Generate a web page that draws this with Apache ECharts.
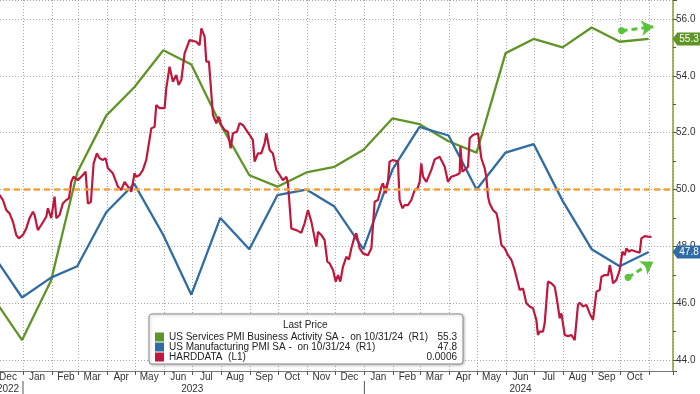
<!DOCTYPE html>
<html><head><meta charset="utf-8">
<script src="https://cdn.jsdelivr.net/npm/echarts@6/dist/echarts.min.js"></script>
<style>html,body{margin:0;padding:0;background:#fff}#c{width:700px;height:394px}</style>
</head><body><div id="c"></div>
<script>
// ---- data ----
const pmiDates = ['2022-11-30','2022-12-31','2023-01-31','2023-02-28','2023-03-31','2023-04-30','2023-05-31','2023-06-30','2023-07-31','2023-08-31','2023-09-30','2023-10-31','2023-11-30','2023-12-31','2024-01-31','2024-02-29','2024-03-31','2024-04-30','2024-05-31','2024-06-30','2024-07-31','2024-08-31','2024-09-30','2024-10-31'];
const servicesPMI = [46.2,44.7,46.8,50.6,52.6,53.6,54.9,54.4,52.3,50.5,50.1,50.6,50.8,51.4,52.5,52.3,51.7,51.3,54.8,55.3,55.0,55.7,55.2,55.3];
const manufacturingPMI = [47.7,46.2,46.9,47.3,49.2,50.2,48.4,46.3,49.0,47.9,49.8,50.0,49.4,47.9,50.7,52.2,51.9,50.0,51.3,51.6,49.6,47.9,47.3,47.8];
// HARDDATA: observation offsets in days after 2022-12-31, and values (L1)
const hardDay = [
-24.1,-20.5,-16.9,-13.4,-9.8,-6.2,-3.4,0.9,4.5,8.0,
11.6,13.4,16.9,20.5,25.9,27.6,31.2,34.8,36.6,40.1,
43.6,47.3,50.1,52.6,55.1,59.7,65.0,67.9,70.4,73.6,
76.5,80.0,82.9,86.4,89.3,91.8,93.6,97.1,102.5,106.1,
109.6,113.2,116.8,120.3,122.1,125.7,129.2,132.8,138.2,141.7,
143.5,147.1,152.4,154.2,157.7,161.3,164.9,167.4,170.3,173.8,
179.1,186.3,189.8,191.7,195.2,197.0,199.8,204.1,207.7,210.5,
213.0,216.6,220.1,223.0,225.5,229.7,232.6,236.1,239.8,243.3,
246.8,248.7,252.2,255.8,259.4,261.2,264.7,268.2,271.9,275.4,
278.9,282.6,284.3,286.1,287.9,293.2,298.6,302.1,305.7,309.3,
311.0,314.7,316.4,320.0,323.5,326.4,328.9,332.5,335.3,337.8,
340.3,343.1,346.7,349.5,352.1,355.6,357.4,361.0,364.5,369.8,
373.5,377.0,380.5,384.2,385.9,388.8,391.2,393.0,396.6,401.9,
403.7,406.6,409.1,412.6,416.2,419.8,423.0,425.1,426.9,428.7,
432.3,437.6,441.2,446.5,451.9,455.4,459.0,464.4,467.9,468.7,
470.8,473.3,476.8,478.6,482.1,487.5,489.3,491.1,494.6,496.4,
498.2,500.0,503.5,507.2,508.9,510.7,512.5,516.0,519.6,523.2,
526.7,530.3,532.1,535.6,539.2,542.8,546.3,549.9,551.6,553.4,
557.0,558.8,562.3,565.9,569.5,572.0,574.9,576.7,580.2,583.7,
587.4,590.9,594.4,596.2,599.8,603.4,606.9,610.5,614.1,617.6,
619.5,623.0,626.6,628.4,630.2,631.9,635.5,637.2,639.0,641.9,
644.4,646.2,649.0,651.5,656.9,660.4,662.2,665.8,669.3,673.0];
const hardVal = [
0.00208,0.00190,0.00155,0.00143,0.00114,0.00067,0.00055,0.00067,0.00090,0.00126,
0.00149,0.00137,0.00084,0.00102,0.00131,0.00161,0.00126,0.00202,0.00126,0.00137,
0.00178,0.00190,0.00196,0.00254,0.00272,0.00260,0.00278,0.00290,0.00178,0.00183,
0.00319,0.00354,0.00337,0.00331,0.00337,0.00302,0.00296,0.00284,0.00237,0.00225,
0.00254,0.00237,0.00219,0.00284,0.00272,0.00278,0.00296,0.00331,0.00442,0.00448,
0.00524,0.00513,0.00513,0.00583,0.00659,0.00606,0.00630,0.00595,0.00612,0.00706,
0.00753,0.00747,0.00735,0.00794,0.00765,0.00677,0.00677,0.00489,0.00460,0.00483,
0.00454,0.00436,0.00430,0.00372,0.00425,0.00430,0.00460,0.00454,0.00436,0.00419,
0.00401,0.00325,0.00354,0.00354,0.00390,0.00425,0.00366,0.00354,0.00296,0.00278,
0.00260,0.00272,0.00249,0.00254,0.00090,0.00084,0.00075,0.00108,0.00155,0.00114,
0.00108,0.00026,0.00078,0.00067,0.00049,-0.00027,-0.00033,-0.00056,-0.00097,-0.00074,
-0.00097,-0.00045,-0.00010,-0.00019,0.00020,0.00061,0.00073,0.00020,0.00002,-0.00004,
0.00020,0.00184,0.00190,0.00237,0.00249,0.00214,0.00254,0.00325,0.00331,0.00325,
0.00190,0.00161,0.00172,0.00172,0.00190,0.00225,0.00232,0.00254,0.00319,0.00272,
0.00254,0.00296,0.00333,0.00342,0.00307,0.00254,0.00272,0.00278,0.00284,0.00378,
0.00290,0.00296,0.00307,0.00407,0.00419,0.00425,0.00419,0.00337,0.00302,0.00272,
0.00202,0.00178,0.00155,0.00143,0.00120,0.00073,0.00032,0.00020,-0.00004,-0.00021,
-0.00056,-0.00103,-0.00127,-0.00121,-0.00173,-0.00185,-0.00191,-0.00232,-0.00285,-0.00273,
-0.00273,-0.00244,-0.00097,-0.00103,-0.00115,-0.00162,-0.00226,-0.00209,-0.00285,-0.00289,
-0.00285,-0.00303,-0.00179,-0.00171,-0.00185,-0.00179,-0.00209,-0.00232,-0.00133,-0.00127,
-0.00080,-0.00074,-0.00074,-0.00039,-0.00068,-0.00103,-0.00091,-0.00074,-0.00056,0.00008,
-0.00004,0.00020,0.00008,0.00014,0.00008,0.00005,0.00055,0.00063,0.00061,0.00060];
const monthNames = ['Jan','Feb','Mar','Apr','May','Jun','Jul','Aug','Sep','Oct','Nov','Dec'];
const seriesNames = ['US Services PMI Business Activity SA -  on 10/31/24  (R1)','US Manufacturing PMI SA -  on 10/31/24  (R1)','HARDDATA  (L1)'];
const lastValues = ['55.3','47.8','0.0006'];
const legendTitle = 'Last Price';
// annotation arrows [startDate, startVal, endDate, endVal] on R1 scale
const arrows = [['2024-10-02',55.59,'2024-11-05',55.73],['2024-10-09',46.91,'2024-11-05',47.46]];

// ---- chart ----
const FONT = '"Liberation Sans", Arial, sans-serif';
const GREEN = '#5f9526', BLUE = '#2f6ca5', RED = '#c0173c', ORANGE = '#f3a23a', ARROW = '#5cc23c';
const DAY = 86400000;
const base = new Date(2022, 11, 31).getTime();
const hardData = hardDay.map((d, i) => [base + d * DAY, hardVal[i]]);
const svcData = pmiDates.map((d, i) => [d, servicesPMI[i]]);
const mfgData = pmiDates.map((d, i) => [d, manufacturingPMI[i]]);
const xMin = new Date(2022, 11, 1).getTime();
const xMax = new Date(2024, 10, 26).getTime();

function monthLabel(v) {
  const d = new Date(v);
  if (d.getDate() !== 1 || d.getHours() !== 0) return '';
  if (d.getFullYear() === 2024 && d.getMonth() >= 10) return '';
  return '{s|' + monthNames[d.getMonth()] + '}';
}
function yearLabel(v) {
  const d = new Date(v);
  if (d.getDate() !== 1) return '';
  const y = d.getFullYear(), m = d.getMonth();
  if (y === 2022 && m === 11) return '{s|2022}';
  if (y === 2023 && m === 6) return '{c|2023}';
  if (y === 2024 && m === 5) return '{s|2024}';
  return '';
}
const labRich = {
  s: {padding: [0, 0, 0, 28], fontSize: 10, fontFamily: FONT, color: '#333'},
  c: {fontSize: 10, fontFamily: FONT, color: '#333'}
};
const tagPath = 'path://M0,6 L5,0 L30,0 L30,12 L5,12 Z';

const chart = echarts.init(document.getElementById('c'), null, {renderer: 'canvas'});
const option = {
  animation: false,
  backgroundColor: '#fff',
  grid: {left: -6, right: 27, top: 0, bottom: 23, containLabel: false, outerBoundsMode: 'none'},
  xAxis: [{
    type: 'time', min: xMin, max: xMax,
    minInterval: 28 * DAY, maxInterval: 31 * DAY, splitNumber: 24,
    axisLine: {show: true, onZero: false, lineStyle: {color: '#777', width: 1}},
    axisTick: {show: true, length: 4, lineStyle: {color: '#555'}},
    axisLabel: {formatter: monthLabel, hideOverlap: false, margin: 1, rich: labRich, color: '#333', fontSize: 10, fontFamily: FONT, showMinLabel: true, showMaxLabel: true},
    splitLine: {show: true, lineStyle: {color: '#a8a8a8', type: [1, 2], width: 1}}
  }, {
    type: 'time', min: xMin, max: xMax, position: 'bottom', offset: 12,
    minInterval: 28 * DAY, maxInterval: 31 * DAY, splitNumber: 24,
    axisLine: {show: false, onZero: false}, axisTick: {show: false}, splitLine: {show: false},
    axisLabel: {formatter: yearLabel, hideOverlap: false, margin: 1, rich: labRich, color: '#333', fontSize: 10, fontFamily: FONT, showMinLabel: true}
  }],
  yAxis: [{
    type: 'value', position: 'right', min: 43.613, max: 56.669, splitNumber: 7,
    axisLine: {show: true, onZero: false, lineStyle: {color: '#8a9c2c', width: 1.5}},
    axisTick: {show: true, length: 4, lineStyle: {color: '#555'}},
    minorTick: {show: true, splitNumber: 2, length: 3, lineStyle: {color: '#555'}},
    axisLabel: {
      formatter: v => (Math.abs(v - Math.round(v)) < 1e-6 && Math.round(v) % 2 === 0) ? v.toFixed(1) : '',
      color: '#333', fontSize: 10, fontFamily: FONT, margin: 3
    },
    splitLine: {show: true, lineStyle: {color: '#a8a8a8', type: [1, 2], width: 1}}
  }, {
    type: 'value', show: false, min: -0.004117, max: 0.008938, splitLine: {show: false},
    axisLine: {onZero: false}
  }],
  legend: {
    orient: 'vertical', left: 149, top: 314, padding: [18, 6, 2, 6],
    itemWidth: 9, itemHeight: 9, itemGap: 0, icon: 'rect', selectedMode: false,
    backgroundColor: '#fff', borderColor: '#8a8a8a', borderWidth: 1, borderRadius: 3,
    shadowBlur: 3, shadowColor: 'rgba(0,0,0,0.25)', shadowOffsetX: 1, shadowOffsetY: 1,
    data: seriesNames,
    formatter: name => '{n|' + name + '}{v|' + lastValues[seriesNames.indexOf(name)] + '}',
    textStyle: {
      color: '#222', fontSize: 10, fontFamily: FONT,
      rich: {
        n: {width: 250, fontSize: 10, lineHeight: 11.5, fontFamily: FONT, color: '#222'},
        v: {width: 38, align: 'right', fontSize: 10, lineHeight: 11.5, fontFamily: FONT, color: '#222'}
      }
    }
  },
  series: [{
    name: seriesNames[0], type: 'line', yAxisIndex: 0, xAxisIndex: 0, data: svcData,
    showSymbol: false, symbol: 'none', lineStyle: {color: GREEN, width: 2.3}, itemStyle: {color: GREEN},
    markLine: {
      silent: true, symbol: ['none', 'none'], label: {show: false},
      lineStyle: {color: ORANGE, width: 2.6, type: [6, 4]},
      data: [{yAxis: 50}]
    },
    markPoint: {
      silent: true, symbol: tagPath, symbolSize: [29, 13], symbolOffset: [14, 0],
      itemStyle: {color: GREEN},
      label: {show: true, position: 'inside', offset: [2, 0], color: '#fff', fontSize: 10, fontFamily: FONT, formatter: lastValues[0]},
      data: [{coord: [xMax, servicesPMI[servicesPMI.length - 1]]}]
    },
    z: 3
  }, {
    name: seriesNames[1], type: 'line', yAxisIndex: 0, xAxisIndex: 0, data: mfgData,
    showSymbol: false, symbol: 'none', lineStyle: {color: BLUE, width: 2.3}, itemStyle: {color: BLUE},
    markPoint: {
      silent: true, symbol: tagPath, symbolSize: [29, 13], symbolOffset: [14, 0],
      itemStyle: {color: BLUE},
      label: {show: true, position: 'inside', offset: [2, 0], color: '#fff', fontSize: 10, fontFamily: FONT, formatter: lastValues[1]},
      data: [{coord: [xMax, manufacturingPMI[manufacturingPMI.length - 1]]}]
    },
    markLine: {
      silent: true, label: {show: false},
      lineStyle: {color: ARROW, width: 3, type: [6, 4]},
      data: arrows.map(a => [
        {coord: [a[0], a[1]], symbol: 'circle', symbolSize: 7},
        {coord: [a[2], a[3]], symbol: 'arrow', symbolSize: [12, 12]}
      ])
    },
    z: 3
  }, {
    name: seriesNames[2], type: 'line', yAxisIndex: 1, xAxisIndex: 0, data: hardData,
    showSymbol: false, symbol: 'none', lineStyle: {color: RED, width: 2.2}, itemStyle: {color: RED},
    z: 4
  }]
};
chart.setOption(option);

const x23 = chart.convertToPixel({xAxisIndex: 0}, new Date(2023, 0, 1).getTime());
const x24 = chart.convertToPixel({xAxisIndex: 0}, new Date(2024, 0, 1).getTime());
chart.setOption({
  graphic: [
    {type: 'text', z: 100, left: 305 - 22, top: 320, style: {text: legendTitle, fill: '#222', fontSize: 10, fontFamily: FONT}},
    {type: 'line', z: 100, shape: {x1: x23, y1: 381, x2: x23, y2: 394}, style: {stroke: '#555', lineWidth: 1}},
    {type: 'line', z: 100, shape: {x1: x24, y1: 381, x2: x24, y2: 394}, style: {stroke: '#555', lineWidth: 1}}
  ]
});
</script></body></html>
